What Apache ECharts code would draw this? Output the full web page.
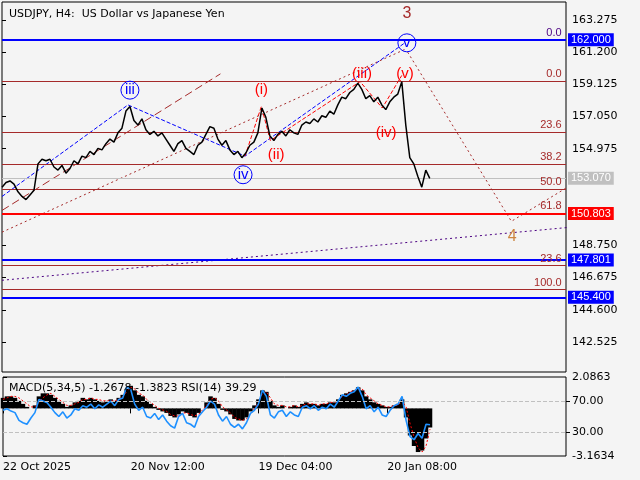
<!DOCTYPE html>
<html><head><meta charset="utf-8">
<script src="https://cdn.jsdelivr.net/npm/echarts@6/dist/echarts.min.js"></script>
<style>html,body{margin:0;background:#f4f4f4}#c{width:640px;height:480px}</style>
</head><body><div id="c"></div>
<script>
// close prices, H4 bars (sampled)
var closes = [152.5,152.8,152.9,152.7,152.2,151.9,151.7,152.0,152.3,154.0,154.3,154.2,154.3,153.8,153.6,153.9,153.4,153.7,154.2,154.0,
154.5,154.4,154.8,154.6,155.0,154.9,155.3,155.6,155.4,156.0,156.3,157.4,157.7,156.8,156.5,156.9,156.2,155.9,156.1,155.8,
156.0,155.6,155.2,154.8,155.3,155.5,155.0,154.8,154.6,155.2,155.4,155.9,156.4,156.3,155.6,155.2,155.5,154.9,154.6,154.8,
154.4,154.7,155.2,155.4,156.0,157.6,157.0,155.8,155.5,155.9,156.1,155.8,156.2,156.0,155.9,156.5,156.7,156.6,156.9,156.7,
157.1,157.0,157.4,157.2,157.8,158.3,158.2,158.6,158.8,159.2,158.8,158.2,158.4,158.0,158.3,157.8,157.5,158.0,158.3,158.5,
159.3,156.5,154.4,154.0,153.2,152.5,153.6,153.07];
var macd = [0.7,0.8,0.8,0.7,0.5,0.3,0.1,0.0,0.2,0.8,1.0,1.0,0.9,0.7,0.5,0.3,0.1,0.2,0.4,0.5,
0.7,0.6,0.7,0.6,0.5,0.4,0.5,0.6,0.5,0.7,0.9,1.3,1.5,1.2,0.9,0.8,0.5,0.3,0.1,-0.1,
-0.2,-0.3,-0.5,-0.6,-0.4,-0.2,-0.3,-0.5,-0.6,-0.3,0.0,0.4,0.8,0.7,0.3,-0.1,-0.2,-0.4,-0.7,-0.8,
-0.8,-0.6,-0.2,0.2,0.6,1.2,1.1,0.5,0.2,0.1,0.2,0.0,0.1,0.2,0.1,0.3,0.4,0.3,0.3,0.2,
0.3,0.3,0.4,0.4,0.6,0.9,1.0,1.1,1.2,1.4,1.2,0.8,0.6,0.4,0.3,0.2,0.1,0.1,0.2,0.3,
0.6,-0.6,-1.8,-2.5,-2.9,-2.8,-2.0,-1.27];
var signal = [0.6,0.7,0.8,0.8,0.7,0.5,0.3,0.1,0.1,0.4,0.7,0.9,1.0,0.8,0.6,0.4,0.2,0.2,0.3,0.4,
0.6,0.6,0.7,0.6,0.6,0.5,0.5,0.5,0.5,0.6,0.8,1.1,1.4,1.3,1.0,0.9,0.6,0.4,0.2,0.0,
-0.1,-0.2,-0.4,-0.5,-0.5,-0.3,-0.3,-0.4,-0.5,-0.4,-0.1,0.2,0.6,0.7,0.5,0.1,-0.1,-0.3,-0.6,-0.7,
-0.8,-0.7,-0.4,0.0,0.4,1.0,1.1,0.7,0.3,0.2,0.2,0.1,0.1,0.2,0.1,0.2,0.3,0.3,0.3,0.2,
0.3,0.3,0.4,0.4,0.5,0.8,0.9,1.1,1.2,1.3,1.3,0.9,0.7,0.5,0.3,0.2,0.1,0.1,0.2,0.2,
0.5,0.1,-1.0,-1.9,-2.6,-2.9,-2.5,-1.38];
var rsi = [58,60,57,55,45,42,40,48,55,72,70,68,62,55,50,56,48,52,60,58,
64,62,66,60,65,62,66,70,64,72,74,88,85,66,58,62,50,48,54,46,
52,44,38,35,50,54,42,40,36,50,56,62,70,66,52,44,50,40,36,40,
34,42,54,58,66,84,76,52,48,56,58,50,56,52,50,62,64,60,64,58,
62,60,66,62,70,78,76,80,82,88,76,60,64,56,62,52,50,58,64,66,
76,45,24,20,28,22,40,39.29];
var dateTicks = [0, 32.8, 65.6, 98.7];
var dateLabels = ['22 Oct 2025', '20 Nov 12:00', '19 Dec 04:00', '20 Jan 08:00'];
var priceTicks = [163.275, 161.2, 159.125, 157.05, 154.975, 148.75, 146.675, 144.6, 142.525];
var macdTicks = [2.0863, -3.1634];
var rsiTicks = [70, 30];
// wave paths (bar index, price)
var blueWave = [[0,151.9],[32.3,157.8],[62.3,154.5],[103.3,161.8]];
var redWave = [[62.3,154.5],[66.5,157.7],[68.8,155.5],[91.8,159.3],[97.5,157.6],[102.5,159.7]];
var brownLine = [[0,151.0],[56,159.8]];
var fanLine = [[0,149.6],[103.5,161.4]];
var purpleLine = [[0,146.5],[145,149.9]];
var projLine = [[104,161.2],[130.6,150.3],[145,152.5]];

var K = 1.025; // bar spacing in axis units
var idx = closes.map(function(v,i){return [i*K,v];});
var chart = echarts.init(document.getElementById('c'));
var BR = '#a52a2a';
var CLEAR = {color:'rgba(0,0,0,0)'};
function hl(y, color, w, txt, bg){
  var o = {yAxis:y, lineStyle:{color:color, width:w, type:'solid'}, label:{show:false}};
  if(txt){ o.label = {show:true, position:'end', formatter:txt, color:'#fff', backgroundColor:bg, padding:[1,3], fontSize:11, distance:2}; }
  return o;
}
function fib(y, t, c){
  return {coord:[143.6, y], symbol:'rect', symbolSize:1, itemStyle:CLEAR,
    label:{show:true, formatter:t, color:c||BR, fontSize:11, position:'left', offset:[0,-7], distance:0}};
}
function lab(x, y, t, c, circ, fs){
  return {coord:[x,y], symbol:'circle', symbolSize:circ?18:2,
    itemStyle:{color:'rgba(0,0,0,0)', borderColor:circ?'#0000ff':'rgba(0,0,0,0)', borderWidth:1},
    label:{show:true, position:'inside', formatter:t, color:c, fontSize:fs||15}};
}
chart.setOption({
  backgroundColor:'#f4f4f4',
  animation:false,
  title:[{text:'USDJPY, H4:  US Dollar vs Japanese Yen', left:4, top:4, textStyle:{fontSize:11, fontWeight:'normal', color:'#000', fontFamily:'DejaVu Sans'}},
         {text:'MACD(5,34,5) -1.2678 -1.3823 RSI(14) 39.29', left:4, top:378, textStyle:{fontSize:11, fontWeight:'normal', color:'#000', fontFamily:'DejaVu Sans'}}],
  grid:[{left:2, right:74, top:2, height:370, show:true, borderColor:'#000', borderWidth:1},
        {left:2, right:74, top:377, height:79, show:true, borderColor:'#000', borderWidth:1}],
  xAxis:[{type:'value', gridIndex:0, min:0, max:144.6, axisLine:{show:false}, axisTick:{show:false}, axisLabel:{show:false}, splitLine:{show:false}},
         {type:'value', gridIndex:1, min:0, max:144.6, axisLine:{show:false}, splitLine:{show:false},
          axisTick:{show:true, customValues:dateTicks, length:5, inside:false, lineStyle:{color:'#000'}},
          axisLabel:{customValues:dateTicks, align:'left', fontSize:11, color:'#000', margin:6, fontFamily:'DejaVu Sans',
            formatter:function(v){var i=dateTicks.indexOf(v);return i>=0?dateLabels[i]:'';}}}],
  yAxis:[{type:'value', gridIndex:0, position:'right', min:140.59, max:164.43, splitLine:{show:false},
          axisLine:{show:false}, axisTick:{show:true, customValues:priceTicks, length:4, lineStyle:{color:'#000'}},
          axisLabel:{customValues:priceTicks, fontSize:11, color:'#000', margin:6, fontFamily:'DejaVu Sans', formatter:function(v){return v.toFixed(3);}}},
         {type:'value', gridIndex:1, position:'right', min:-3.1634, max:2.0863, splitLine:{show:false},
          axisLine:{show:false}, axisTick:{show:true, customValues:macdTicks, length:4, lineStyle:{color:'#000'}},
          axisLabel:{customValues:macdTicks, fontSize:11, color:'#000', margin:6, fontFamily:'DejaVu Sans', formatter:function(v){return v.toFixed(4);}}},
         {type:'value', gridIndex:1, position:'right', min:-1, max:101, splitLine:{show:false},
          axisLine:{show:false}, axisTick:{show:true, customValues:rsiTicks, length:4, lineStyle:{color:'#000'}},
          axisLabel:{customValues:rsiTicks, fontSize:11, color:'#000', margin:6, fontFamily:'DejaVu Sans', formatter:function(v){return v.toFixed(2);}}}],
  series:[
    {type:'line', data:idx, showSymbol:false, lineStyle:{color:'#000', width:1.5}, z:5,
     markLine:{silent:true, symbol:'none', animation:false, data:[
       hl(162.0,'#0000ff',2,'162.000','#0000ff'),
       hl(159.35,BR,1), hl(156.06,BR,1), hl(154.0,BR,1), hl(152.38,BR,1),
       hl(153.07,'#c0c0c0',1,'153.070','#c0c0c0'),
       hl(150.803,'#ff0000',2,'150.803','#ff0000'),
       hl(147.801,'#0000ff',2,'147.801','#0000ff'),
       hl(147.45,BR,1), hl(145.9,BR,1),
       hl(145.4,'#0000ff',2,'145.400','#0000ff')]},
     markPoint:{silent:true, data:[
       fib(162.0,'0.0','#4b0082'), fib(159.35,'0.0'), fib(156.06,'23.6'), fib(154.0,'38.2'),
       fib(152.38,'50.0'), fib(150.85,'61.8'), fib(147.45,'23.6'), fib(145.9,'100.0'),
       lab(32.8,158.75,'iii','#0000ff',true), lab(61.8,153.3,'iv','#0000ff',true), lab(103.8,161.8,'v','#0000ff',true),
       lab(103.8,163.7,'3',BR,false,16), lab(130.8,149.3,'4','#cd853f',false,16),
       lab(66.5,158.75,'(i)','#ff0000'), lab(70.3,154.6,'(ii)','#ff0000'),
       lab(92.3,159.8,'(iii)','#ff0000'), lab(98.5,156.0,'(iv)','#ff0000'), lab(103.3,159.8,'(v)','#ff0000')]}},
    {type:'line', data:blueWave, showSymbol:false, lineStyle:{color:'#0000ff', width:1, type:'dashed'}},
    {type:'line', data:redWave, showSymbol:false, lineStyle:{color:'#ff0000', width:1, type:'dashed'}},
    {type:'line', data:brownLine, showSymbol:false, lineStyle:{color:BR, width:1, type:[8,4]}},
    {type:'line', data:fanLine, showSymbol:false, lineStyle:{color:BR, width:1, type:[2,3]}},
    {type:'line', data:purpleLine, showSymbol:false, lineStyle:{color:'#4b0082', width:1, type:[2,3]}},
    {type:'line', data:projLine, showSymbol:false, lineStyle:{color:BR, width:1, type:[2,3]}},
    {type:'bar', xAxisIndex:1, yAxisIndex:1, data:macd.map(function(v,i){return [i*K,v];}), barWidth:4.5, itemStyle:{color:'#000'}},
    {type:'line', xAxisIndex:1, yAxisIndex:1, data:signal.map(function(v,i){return [i*K,v];}), showSymbol:false, lineStyle:{color:'#ff0000', width:1, type:[2,2]}},
    {type:'line', xAxisIndex:1, yAxisIndex:2, data:rsi.map(function(v,i){return [i*K,v];}), showSymbol:false, lineStyle:{color:'#1e90ff', width:1.6},
     markLine:{silent:true, symbol:'none', label:{show:false}, lineStyle:{color:'#c0c0c0', type:'dashed', width:1}, data:[{yAxis:70},{yAxis:30}]}}
  ]
});
</script></body></html>
